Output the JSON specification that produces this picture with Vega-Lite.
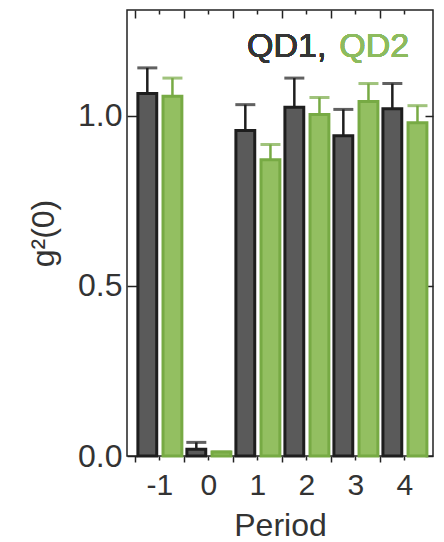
{
  "$schema": "https://vega.github.io/schema/vega-lite/v6.json",
  "width": 306,
  "height": 446,
  "autosize": "none",
  "padding": {"left": 127, "top": 10, "right": 11, "bottom": 86},
  "background": "white",
  "config": {
    "view": {"stroke": "#222222", "strokeWidth": 1.5},
    "font": "Liberation Sans",
    "axis": {
      "domain": false,
      "grid": false,
      "labelColor": "#333333",
      "titleColor": "#333333",
      "tickColor": "#222222",
      "tickWidth": 1.5,
      "labelFont": "Liberation Sans",
      "titleFont": "Liberation Sans",
      "titleFontWeight": "normal"
    }
  },
  "data": {
    "values": [
      {"period": "-1", "qd": "QD1", "g2": 1.065, "hi": 1.14},
      {"period": "-1", "qd": "QD2", "g2": 1.057, "hi": 1.11},
      {"period": "0", "qd": "QD1", "g2": 0.02, "hi": 0.04},
      {"period": "0", "qd": "QD2", "g2": 0.012, "hi": 0.012},
      {"period": "1", "qd": "QD1", "g2": 0.956, "hi": 1.032},
      {"period": "1", "qd": "QD2", "g2": 0.87, "hi": 0.915},
      {"period": "2", "qd": "QD1", "g2": 1.024, "hi": 1.11},
      {"period": "2", "qd": "QD2", "g2": 1.003, "hi": 1.053},
      {"period": "3", "qd": "QD1", "g2": 0.941, "hi": 1.018},
      {"period": "3", "qd": "QD2", "g2": 1.041, "hi": 1.094},
      {"period": "4", "qd": "QD1", "g2": 1.02, "hi": 1.094},
      {"period": "4", "qd": "QD2", "g2": 0.979, "hi": 1.029}
    ]
  },
  "layer": [
    {
      "mark": {"type": "bar", "strokeWidth": 3},
      "encoding": {
        "x": {
          "field": "period", "type": "nominal",
          "scale": {"domain": ["-1", "0", "1", "2", "3", "4"], "paddingInner": 0, "paddingOuter": 0.122, "align": 0.7},
          "axis": {"orient": "bottom", "labelAngle": 0, "labelFontSize": 30, "titleFontSize": 32, "title": "Period", "tickSize": 4, "labelPadding": 10, "titlePadding": 10}
        },
        "xOffset": {
          "field": "qd", "type": "nominal",
          "scale": {"domain": ["QD1", "QD2"], "paddingInner": 0.25, "paddingOuter": 0.1}
        },
        "y": {
          "field": "g2", "type": "quantitative",
          "scale": {"domain": [0, 1.31], "nice": false, "zero": false},
          "axis": {"orient": "left", "values": [0, 0.5, 1.0], "format": ".1f", "labelFontSize": 32, "tickSize": -10, "labelPadding": 15, "title": "g²(0)", "titleFontSize": 32, "titleX": -84, "titleBaseline": "middle"}
        },
        "fill": {"field": "qd", "type": "nominal", "scale": {"domain": ["QD1", "QD2"], "range": ["#5a5a5a", "#93bf61"]}, "legend": null},
        "stroke": {"field": "qd", "type": "nominal", "scale": {"domain": ["QD1", "QD2"], "range": ["#1e1e1e", "#77aa44"]}, "legend": null}
      }
    },
    {
      "mark": {"type": "rule", "strokeWidth": 2.5},
      "encoding": {
        "x": {"field": "period", "type": "nominal", "axis": {"orient": "top", "labels": false, "title": null, "tickSize": -4}},
        "xOffset": {"field": "qd", "type": "nominal"},
        "y": {"field": "g2", "type": "quantitative", "axis": {"orient": "right", "values": [0, 0.5, 1.0], "labels": false, "title": null, "tickSize": -8}},
        "y2": {"field": "hi"},
        "stroke": {"field": "qd", "type": "nominal", "legend": null}
      }
    },
    {
      "mark": {"type": "tick", "size": 20, "thickness": 3, "orient": "horizontal"},
      "encoding": {
        "x": {"field": "period", "type": "nominal", "axis": {"orient": "bottom", "labels": false, "title": null, "tickSize": 6, "bandPosition": 0}},
        "xOffset": {"field": "qd", "type": "nominal"},
        "y": {"field": "hi", "type": "quantitative", "axis": null},
        "fill": {"field": "qd", "type": "nominal", "scale": {"domain": ["QD1", "QD2"], "range": ["#1e1e1e", "#77aa44"]}, "legend": null}
      }
    },
    {
      "mark": {"type": "text", "text": "QD1,", "align": "right", "baseline": "middle", "fontSize": 34, "dx": 7, "color": "#353535"},
      "encoding": {
        "x": {"datum": "2", "type": "nominal", "axis": {"orient": "top", "labels": false, "title": null, "tickSize": -8, "bandPosition": 0}},
        "xOffset": {"datum": "QD2", "type": "nominal"},
        "y": {"datum": 1.2, "type": "quantitative", "axis": null}
      }
    },
    {
      "mark": {"type": "text", "text": "QD2", "align": "left", "baseline": "middle", "fontSize": 34, "dx": -4, "color": "#8dbb5e"},
      "encoding": {
        "x": {"datum": "3", "type": "nominal", "axis": null},
        "xOffset": {"datum": "QD1", "type": "nominal"},
        "y": {"datum": 1.2, "type": "quantitative", "axis": null}
      }
    }
  ],
  "resolve": {"scale": {"fill": "independent"}, "axis": {"x": "independent", "y": "independent"}}
}
